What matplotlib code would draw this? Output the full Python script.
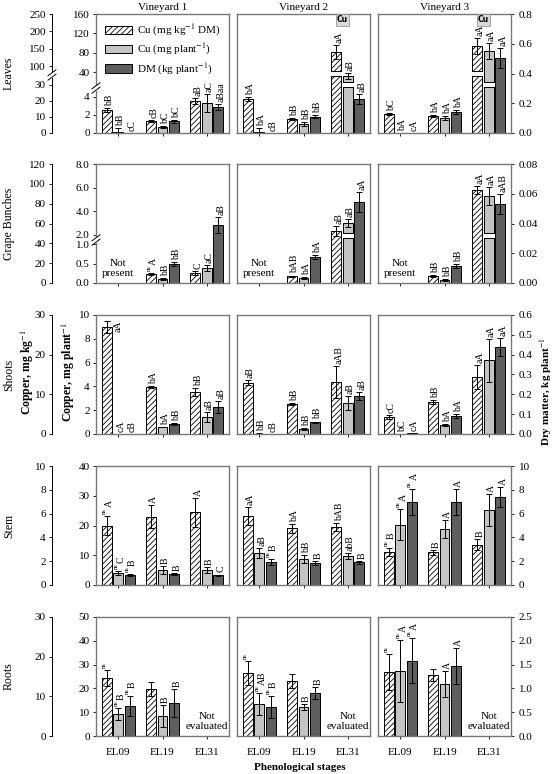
import numpy as np
import matplotlib
matplotlib.use('Agg')
import matplotlib.pyplot as plt
from matplotlib.patches import Patch, Rectangle
from matplotlib.lines import Line2D
from matplotlib.transforms import blended_transform_factory as blend

plt.rcParams['font.family'] = 'Liberation Serif'
plt.rcParams['mathtext.fontset'] = 'stix'
plt.rcParams['hatch.linewidth'] = 0.6

nan = np.nan
stages = ['EL09', 'EL19', 'EL31']
vineyards = ['Vineyard 1', 'Vineyard 2', 'Vineyard 3']
organs = ['Leaves', 'Grape Bunches', 'Shoots', 'Stem', 'Roots']
legend_labels = [r'Cu (mg kg$^{-1}$ DM)', r'Cu (mg plant$^{-1}$)', r'DM (kg plant$^{-1}$)']

# values are [vineyard][stage]; nan = not present / not evaluated
leaves_cu_kg = [[14.4, 7.5, 20], [21.3, 8.8, 140], [11.9, 10.6, 158]]
leaves_cu_kg_err = [[1.0, 0.6, 2.0], [1.3, 0.6, 20], [0.5, 0.8, 23]]
leaves_cu_plant = [[0.1, 0.67, 3.33], [0.1, 1.0, 31], [0.0, 1.67, 83.5]]
leaves_cu_plant_err = [[0.5, 0.1, 1.0], [0.5, 0.2, 6.5], [0, 0.2, 16.5]]
leaves_dm = [[0, 0.08, 0.175], [0, 0.108, 0.228], [0, 0.141, 0.504]]
leaves_dm_err = [[0, 0.01, 0.02], [0, 0.01, 0.035], [0, 0.015, 0.067]]
leaves_labels = [[['bB', 'bB', 'cC'], ['cB', 'bC', 'bC'], ['aB', 'aC', 'aBaa']],
                 [['bA', 'bA', 'cB'], ['bB', 'bB', 'bB'], ['aA', 'aB', 'aB']],
                 [['bC', 'bA', 'cA'], ['bA', 'bA', 'bA'], ['aA', 'aA', 'aA']]]

grape_cu_kg = [[nan, 9, 10], [nan, 7, 52], [nan, 7, 94]]
grape_cu_kg_err = [[nan, 1, 2], [nan, 0.5, 5], [nan, 1, 4]]
grape_cu_plant = [[nan, 0.1, 0.38], [nan, 0.13, 3.0], [nan, 0.07, 5.3]]
grape_cu_plant_err = [[nan, 0.02, 0.08], [nan, 0.02, 0.35], [nan, 0.02, 0.75]]
grape_dm = [[nan, 0.0128, 0.039], [nan, 0.0175, 0.0545], [nan, 0.0114, 0.053]]
grape_dm_err = [[nan, 0.0012, 0.0055], [nan, 0.0012, 0.0067], [nan, 0.0012, 0.0067]]
grape_labels = [[['', '', ''], ['ns A', 'bB', 'bB'], ['C', 'aC', 'aB']],
                [['', '', ''], ['bAB', 'bA', 'bA'], ['aB', 'aB', 'aA']],
                [['', '', ''], ['bB', 'bB', 'bB'], ['aA', 'aA', 'aAB']]]

shoots_cu_kg = [[27, 11.8, 10.6], [12.9, 7.6, 13.1], [4.3, 8.1, 14.4]]
shoots_cu_kg_err = [[1.5, 0.2, 1.1], [0.6, 0.3, 4.0], [0.5, 0.5, 3.0]]
shoots_cu_plant = [[0.02, 0.59, 1.43], [0.03, 0.42, 2.6], [0.02, 0.76, 6.2]]
shoots_cu_plant_err = [[0, 0.03, 0.42], [0.02, 0.05, 0.6], [0, 0.08, 1.8]]
shoots_dm = [[0, 0.05, 0.136], [0, 0.06, 0.19], [0.005, 0.09, 0.44]]
shoots_dm_err = [[0, 0.003, 0.03], [0, 0.003, 0.02], [0, 0.01, 0.045]]
shoots_labels = [[['aA', 'cA', 'cB'], ['bA', 'bA', 'bB'], ['bB', 'aB', 'aB']],
                 [['aB', 'bB', 'cB'], ['bB', 'bB', 'bB'], ['aAB', 'aB', 'aB']],
                 [['cC', 'bC', 'cA'], ['bB', 'bA', 'bA'], ['aA', 'aA', 'aA']]]

stem_cu_kg = [[5.0, 5.75, 6.1], [5.8, 4.75, 4.9], [2.8, 2.75, 3.4]]
stem_cu_kg_err = [[0.83, 1.0, 1.2], [0.75, 0.4, 0.33], [0.33, 0.2, 0.5]]
stem_cu_plant = [[4.0, 5.0, 5.0], [10.7, 8.7, 9.7], [20.3, 18.7, 25.3]]
stem_cu_plant_err = [[0.7, 1.3, 1.0], [1.7, 1.3, 1.0], [5.3, 3.0, 5.3]]
stem_dm = [[0.83, 0.92, 0.83], [1.9, 1.83, 1.9], [7.0, 7.0, 7.4]]
stem_dm_err = [[0.1, 0.1, 0.05], [0.25, 0.15, 0.15], [1.1, 1.1, 0.85]]
stem_labels = [[['ns A', 'ns C', 'ns B'], ['A', 'B', 'B'], ['A', 'B', 'C']],
               [['aA', 'aB', 'ns B'], ['bA', 'bB', 'B'], ['bAB', 'abB', 'B']],
               [['ns B', 'ns A', 'ns A'], ['B', 'A', 'A'], ['B', 'A', 'A']]]

roots_cu_kg = [[14.6, 11.8, nan], [15.9, 13.9, nan], [16.1, 15.4, nan]]
roots_cu_kg_err = [[2.1, 1.8, nan], [3.0, 1.8, nan], [4.5, 1.6, nan]]
roots_cu_plant = [[9.2, 8.4, nan], [13.4, 12.2, nan], [27.3, 21.8, nan]]
roots_cu_plant_err = [[2.5, 4.7, nan], [4.7, 1.3, nan], [13, 5.5, nan]]
roots_dm = [[0.63, 0.69, nan], [0.61, 0.9, nan], [1.58, 1.47, nan]]
roots_dm_err = [[0.2, 0.3, nan], [0.23, 0.13, nan], [0.47, 0.37, nan]]
roots_labels = [[['ns', 'ns B', 'ns B'], ['', 'B', 'B'], ['', '', '']],
                [['ns', 'ns AB', 'ns B'], ['', 'B', 'B'], ['', '', '']],
                [['ns', 'ns A', 'ns A'], ['', 'A', 'A'], ['', '', '']]]

# axis ticks per row: outer left (Cu mg/kg), inner left (Cu mg/plant), right (DM)
outer_ticks = [[0, 10, 20, 30, 100, 150, 200, 250], [0, 20, 40, 60, 80, 100, 120],
               [0, 10, 20, 30], [0, 2, 4, 6, 8, 10], [0, 10, 20, 30]]
inner_ticks = [[0, 2, 4, 40, 80, 120, 160], [0, 0.5, 1.0, 2.0, 4.0, 6.0, 8.0],
               [0, 2, 4, 6, 8, 10], [0, 10, 20, 30, 40], [0, 10, 20, 30, 40, 50]]
right_ticks = [[0, 0.2, 0.4, 0.6, 0.8], [0, 0.02, 0.04, 0.06, 0.08],
               [0, 0.1, 0.2, 0.3, 0.4, 0.5, 0.6], [0, 2, 4, 6, 8, 10], [0, 0.5, 1.0, 1.5, 2.0, 2.5]]
outer_fmt = ['%d'] * 5
inner_fmt = ['%d', '%.1f', '%d', '%d', '%d']
right_fmt = ['%.1f', '%.2f', '%.1f', '%d', '%.1f']

# broken axes: (value, pixel height above panel bottom), panel is 119 px tall
PH = 119
outer_scale = [[(0, 0), (30, 48), (100, 67), (250, 119)], None, None, None, None]
inner_scale = [[(0, 0), (5, 45), (40, 61), (160, 119)], [(0, 0), (1, 39), (2, 48), (8, 119)], None, None, None]
bar_breaks = {(0, 0): (57, 62), (0, 1): (46, 51), (1, 1): (45, 50)}

cu_kg = [leaves_cu_kg, grape_cu_kg, shoots_cu_kg, stem_cu_kg, roots_cu_kg]
cu_kg_err = [leaves_cu_kg_err, grape_cu_kg_err, shoots_cu_kg_err, stem_cu_kg_err, roots_cu_kg_err]
cu_plant = [leaves_cu_plant, grape_cu_plant, shoots_cu_plant, stem_cu_plant, roots_cu_plant]
cu_plant_err = [leaves_cu_plant_err, grape_cu_plant_err, shoots_cu_plant_err, stem_cu_plant_err, roots_cu_plant_err]
dm = [leaves_dm, grape_dm, shoots_dm, stem_dm, roots_dm]
dm_err = [leaves_dm_err, grape_dm_err, shoots_dm_err, stem_dm_err, roots_dm_err]
labels = [leaves_labels, grape_labels, shoots_labels, stem_labels, roots_labels]
notes = {1: (0, 'Not\npresent'), 4: (2, 'Not\nevaluated')}

series_vals = [cu_kg, cu_plant, dm]
series_errs = [cu_kg_err, cu_plant_err, dm_err]
ticks = [outer_ticks, inner_ticks, right_ticks]
fmts = [outer_fmt, inner_fmt, right_fmt]
scales = [outer_scale, inner_scale, [None] * 5]
styles = [dict(color='white', hatch='//////'), dict(color='#c4c4c4'), dict(color='#5e5e5e')]

W, H = 556, 774
col_x = [96, 237, 378]
row_y = [14, 164, 315, 466, 617]
PW = 133
x = np.arange(3)
offsets = [-0.26, 0, 0.26]
bw = 0.225


def set_scale(ax, pts, top):
    if pts is not None:
        v = np.array([p[0] for p in pts], float)
        f = np.array([p[1] for p in pts], float)
        ax.set_yscale('function', functions=(lambda y: np.interp(y, v, f), lambda y: np.interp(y, f, v)))
    ax.set_ylim(0, top)


def put_label(ax, xv, yv, lab):
    if not lab:
        return
    frac = ax.transAxes.inverted().transform(ax.transData.transform((xv, yv)))[1]
    ns = lab.startswith('ns')
    main = lab[2:].strip() if ns else lab
    if frac > 0.86:
        ax.annotate(main, (xv, yv), xytext=(8, 0), textcoords='offset points', rotation=90,
                    ha='center', va='top', fontsize=7)
        return
    if ns:
        ax.annotate('ns', (xv, yv), xytext=(-1.5, 1.5), textcoords='offset points', rotation=90,
                    ha='center', va='bottom', fontsize=4.5)
    if main:
        ax.annotate(main, (xv, yv), xytext=(2, 6 if ns else 1.5), textcoords='offset points',
                    rotation=90, ha='center', va='bottom', fontsize=7)


def axis_break(xp, yp):
    fig.add_artist(Rectangle(((xp - 3) / W, 1 - (yp + 2.5) / H), 6 / W, 5 / H,
                             transform=fig.transFigure, fc='white', ec='none', zorder=5))
    for dy in (-2.2, 2.2):
        fig.add_artist(Line2D([(xp - 4) / W, (xp + 4) / W], [1 - (yp + dy + 3) / H, 1 - (yp + dy - 3) / H],
                              transform=fig.transFigure, color='k', lw=0.7, zorder=6))


fig = plt.figure(figsize=(W / 100, H / 100), dpi=100)

for r in range(5):
    for c in range(3):
        rect = [col_x[c] / W, 1 - (row_y[r] + PH) / H, PW / W, PH / H]
        axh = fig.add_axes(rect)
        axg = axh.twinx()
        axd = axh.twinx()
        axs = [axh, axg, axd]
        for k, ax in enumerate(axs):
            set_scale(ax, scales[k][r], ticks[k][r][-1])
            ax.set_yticks(ticks[k][r])
            ax.set_yticklabels([fmts[k][r] % t for t in ticks[k][r]])
            for s in ax.spines.values():
                s.set_visible(False)
            ax.tick_params(axis='y', which='both', left=False, right=False, labelleft=False,
                           labelright=False, labelsize=8, length=2.5, width=0.6, pad=2)
        axh.set_xlim(-0.5, 2.5)
        axh.set_xticks(x)
        axh.tick_params(axis='x', length=2.5, width=0.6, labelsize=8, pad=6, labelbottom=(r == 4))
        if r == 4:
            axh.set_xticklabels(stages)
        for s in axd.spines.values():
            s.set_visible(True)
            s.set_color('#777777')
            s.set_linewidth(1.0)
        if c == 0:
            sp = axh.spines['left']
            sp.set_visible(True)
            sp.set_position(('outward', 31.7))
            sp.set_linewidth(0.7)
            axh.tick_params(axis='y', left=True, labelleft=True)
            axg.yaxis.tick_left()
            axg.tick_params(axis='y', left=True, labelleft=True, right=False, labelright=False)
        if c == 2:
            axd.tick_params(axis='y', right=True, labelright=True, pad=3)

        for k, ax in enumerate(axs):
            v = np.array(series_vals[k][r][c], float)
            e = np.array(series_errs[k][r][c], float)
            xs = x + offsets[k]
            ok = ~np.isnan(v)
            ax.bar(xs[ok], v[ok], bw, edgecolor='k', linewidth=0.7, zorder=2, **styles[k])
            eb = ok & (np.nan_to_num(e) > 0)
            ax.errorbar(xs[eb], v[eb], yerr=e[eb], fmt='none', ecolor='k', elinewidth=0.7,
                        capsize=2, capthick=0.7, zorder=4)
            if (r, k) in bar_breaks:
                b0, b1 = bar_breaks[(r, k)]
                tr = blend(ax.transData, ax.transAxes)
                for i in np.where(ok)[0]:
                    frac = ax.transAxes.inverted().transform(ax.transData.transform((xs[i], v[i])))[1]
                    if frac * PH > b1 + 1:
                        ax.add_patch(Rectangle((xs[i] - bw / 2 - 0.03, b0 / PH), bw + 0.06, (b1 - b0) / PH,
                                               transform=tr, fc='white', ec='none', zorder=3))
                        for bb in (b0, b1):
                            ax.plot([xs[i] - bw / 2, xs[i] + bw / 2], [bb / PH, bb / PH], transform=tr,
                                    color='k', lw=0.7, zorder=3)
            for i in np.where(ok)[0]:
                top = v[i] + (e[i] if eb[i] else 0)
                put_label(ax, xs[i], top, labels[r][c][i][k])

        if r in notes:
            gi, txt = notes[r]
            axd.text(gi, 0.12, txt, transform=blend(axd.transData, axd.transAxes), ha='center',
                     va='center', fontsize=8, linespacing=1.15)
        if r == 0 and c > 0:
            axd.text(2 - 0.12, 0.95, 'Cu', transform=blend(axd.transData, axd.transAxes), ha='center',
                     va='center', fontsize=5.5, fontweight='bold', family='DejaVu Sans',
                     bbox=dict(boxstyle='square,pad=0.15', fc='#d9d9d9', ec='#888888', lw=0.5))
        if r == 0 and c == 0:
            handles = [Patch(facecolor=st['color'], hatch=st.get('hatch'), edgecolor='k', linewidth=0.7)
                       for st in styles]
            axd.legend(handles, legend_labels, loc='upper left', bbox_to_anchor=(0.0, 1.0), frameon=False,
                       fontsize=8, handlelength=2.4, handleheight=0.75, labelspacing=0.35,
                       handletextpad=0.5, borderaxespad=0.4)
        if r == 0:
            fig.text((col_x[c] + PW / 2) / W, 1 - 7 / H, vineyards[c], ha='center', va='center', fontsize=8)

    fig.text(9 / W, 1 - (row_y[r] + PH / 2) / H, organs[r], rotation=90, ha='center', va='center', fontsize=8.5)

axis_break(52, 75)
axis_break(96, 88)
axis_break(96, 240)

fig.text(27 / W, 1 - 372 / H, r'Copper, mg kg$^{-1}$', rotation=90, ha='center', va='center',
         fontsize=8.5, fontweight='bold')
fig.text(68 / W, 1 - 372 / H, r'Copper, mg plant$^{-1}$', rotation=90, ha='center', va='center',
         fontsize=8.5, fontweight='bold')
fig.text(546 / W, 1 - 392 / H, r'Dry matter, kg plant$^{-1}$', rotation=90, ha='center', va='center',
         fontsize=8, fontweight='bold')
fig.text(300 / W, 1 - 767 / H, 'Phenological stages', ha='center', va='center', fontsize=8,
         fontweight='bold')

fig.savefig('out.png', dpi=100)
